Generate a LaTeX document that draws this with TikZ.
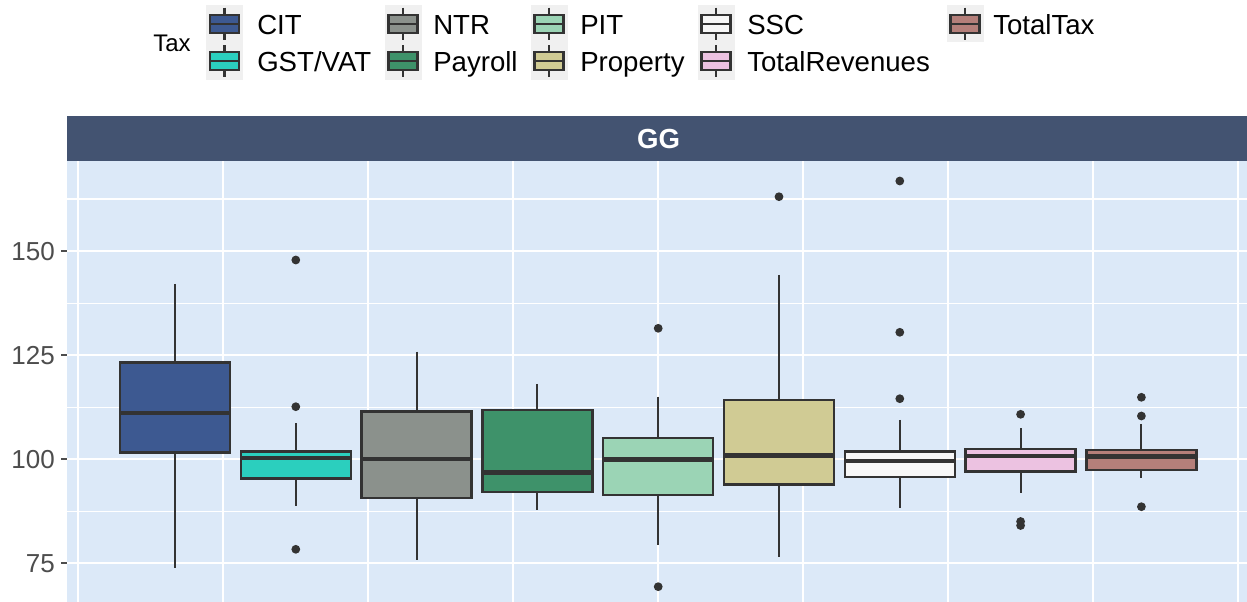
\documentclass[tikz,border=0pt]{standalone}
\usepackage{fontspec}
\setmainfont{Liberation Sans}
\definecolor{panelbg}{RGB}{220,233,248}
\definecolor{stripbg}{RGB}{67,83,113}
\definecolor{cCIT}{RGB}{61,89,145}
\definecolor{cGST}{RGB}{43,207,190}
\definecolor{cNTR}{RGB}{139,145,140}
\definecolor{cPay}{RGB}{62,146,106}
\definecolor{cPIT}{RGB}{155,212,181}
\definecolor{cProp}{RGB}{208,203,148}
\definecolor{cSSC}{RGB}{247,247,247}
\definecolor{cTR}{RGB}{236,194,225}
\definecolor{cTT}{RGB}{180,127,122}
\definecolor{outl}{RGB}{51,51,51}
\definecolor{keybg}{RGB}{240,240,240}
\definecolor{axisgrey}{RGB}{77,77,77}
\newcommand\bxplot[7]{%
  \draw[whisk] (#1,#2) -- (#1,#3);
  \draw[whisk] (#1,#5) -- (#1,#6);
  \filldraw[boxst, fill=#7] (#1-55,#3) rectangle (#1+55,#5);
  \draw[medst] (#1-55,#4) -- (#1+55,#4);
}
\newcommand\outpt[2]{\fill[outl] (#1,#2) circle[radius=4.4];}
\newcommand\lkey[3]{%
  \fill[keybg] (#1-18.5,#2-18.75) rectangle (#1+18.5,#2+18.75);
  \draw[whisk] (#1,#2-16) -- (#1,#2+16);
  \filldraw[boxst, fill=#3] (#1-14.5,#2-9) rectangle (#1+14.5,#2+9);
  \draw[keymed] (#1-14.5,#2) -- (#1+14.5,#2);
}
\begin{document}
\begin{tikzpicture}[x=0.75pt,y=-0.75pt,
  whisk/.style={draw=outl, line width=1.6pt},
  boxst/.style={draw=outl, line width=1.8pt},
  medst/.style={draw=outl, line width=3.4pt},
  keymed/.style={draw=outl, line width=1.8pt},
  majgrid/.style={draw=white, line width=1.6pt},
  mingrid/.style={draw=white, line width=0.8pt},
  vgrid/.style={draw=white, line width=1.3pt},
  legtext/.style={anchor=base west, font=\fontsize{20.7}{24}\selectfont, text=black, inner sep=0pt},
  axtext/.style={anchor=east, font=\fontsize{19.5}{22}\selectfont, text=axisgrey, inner sep=0pt},
]
\fill[white] (0,0) rectangle (1247,602);
\useasboundingbox (0,0) rectangle (1247,602);

% panel
\fill[panelbg] (67,161) rectangle (1247,602);
\foreach \yy in {199.0,303.1,407.2,511.4} \draw[mingrid] (67,\yy) -- (1247,\yy);
\foreach \yy in {251.1,355.2,459.3,563.4} \draw[majgrid] (67,\yy) -- (1247,\yy);
\foreach \xx in {78,223,368,513,658,803,948,1093,1238} \draw[vgrid] (\xx,161) -- (\xx,602);

% strip
\fill[stripbg] (67,116) rectangle (1247,161);
\node[font=\bfseries\fontsize{20.7}{24}\selectfont, text=white] (strip) at (658.5,139) {GG};

% axis
\foreach \yy/\lab/\nm in {251.1/150/a150,355.2/125/a125,459.3/100/a100,563.4/75/a75}{
  \draw[draw=axisgrey, line width=1.5pt] (61,\yy) -- (67,\yy);
  \node[axtext] (\nm) at (55,\yy) {\lab};
}

% boxes
\bxplot{175}{284}{362.7}{413}{452.7}{567.7}{cCIT}
\bxplot{295.8}{423.3}{451.7}{458}{478.3}{506}{cGST}
\outpt{295.8}{260}\outpt{295.8}{406.7}\outpt{295.8}{549.3}
\bxplot{416.6}{351.7}{411.7}{459}{498}{560}{cNTR}
\bxplot{537.4}{384}{410}{472.7}{492}{510}{cPay}
\bxplot{658.2}{396.7}{438}{459.3}{495}{545}{cPIT}
\outpt{658.2}{328.3}\outpt{658.2}{586.7}
\bxplot{779}{275}{400.3}{455.3}{484.3}{556.7}{cProp}
\outpt{779}{196.7}
\bxplot{899.8}{420}{451.7}{461}{476.7}{508.3}{cSSC}
\outpt{899.8}{181}\outpt{899.8}{332.3}\outpt{899.8}{398.7}
\bxplot{1020.6}{428.3}{449.3}{456}{471.7}{492.7}{cTR}
\outpt{1020.6}{414.3}\outpt{1020.6}{521.5}\outpt{1020.6}{525.5}
\bxplot{1141.4}{424}{450.3}{456.7}{470}{478.3}{cTT}
\outpt{1141.4}{397.3}\outpt{1141.4}{416}\outpt{1141.4}{506.7}

% legend
\node[anchor=base west, font=\fontsize{18}{22}\selectfont, inner sep=0pt] (taxtitle) at (153,51.5) {Tax};
\lkey{224.5}{23.75}{cCIT}
\lkey{224.5}{61.25}{cGST}
\lkey{403}{23.75}{cNTR}
\lkey{403}{61.25}{cPay}
\lkey{549}{23.75}{cPIT}
\lkey{549}{61.25}{cProp}
\lkey{716}{23.75}{cSSC}
\lkey{716}{61.25}{cTR}
\lkey{965}{23.75}{cTT}
\node[legtext] (lCIT) at (257,34.5) {CIT};
\node[legtext] (lGST) at (257,72) {GST/VAT};
\node[legtext] (lNTR) at (433,34.5) {NTR};
\node[legtext] (lPay) at (433,72) {Payroll};
\node[legtext] (lPIT) at (580,34.5) {PIT};
\node[legtext] (lProp) at (580,72) {Property};
\node[legtext] (lSSC) at (747,34.5) {SSC};
\node[legtext] (lTR) at (747,72) {TotalRevenues};
\node[legtext] (lTT) at (993,34.5) {TotalTax};
\end{tikzpicture}
\end{document}
